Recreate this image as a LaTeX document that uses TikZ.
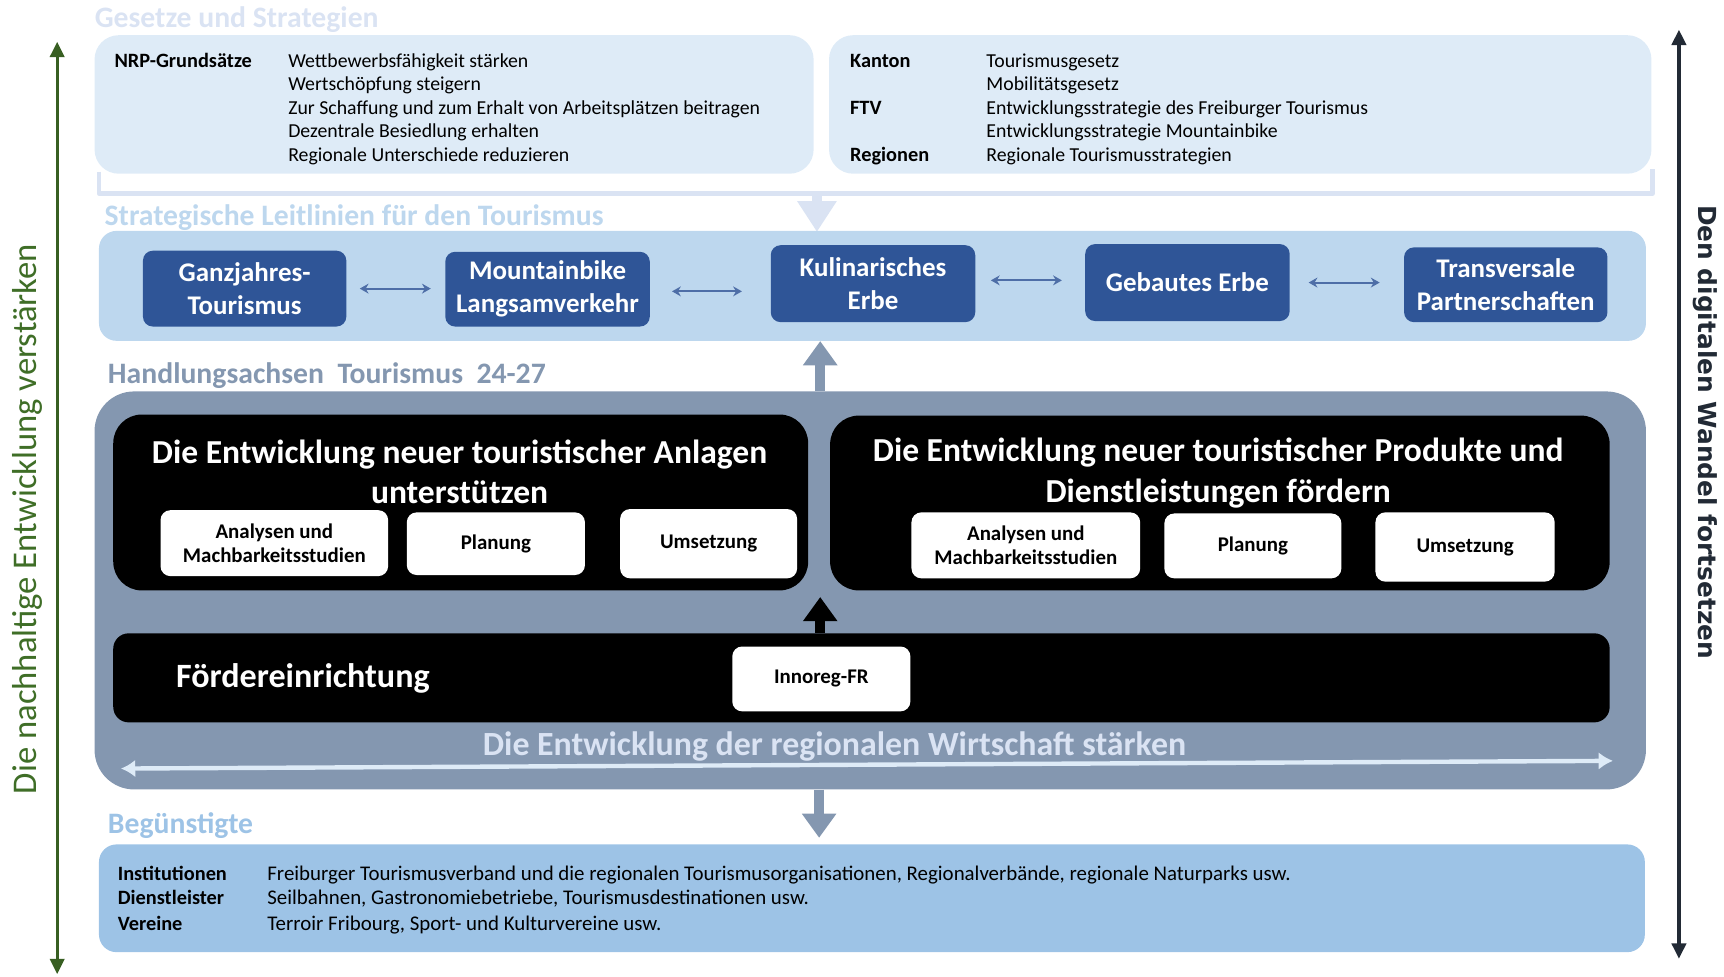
\documentclass[tikz,border=0pt]{standalone}
\usepackage{fontspec}
\setmainfont{Carlito}
\newfontfamily\vfont{DejaVu Sans}
\usetikzlibrary{arrows.meta}
\definecolor{pale}{HTML}{DEEBF7}
\definecolor{paletitle}{HTML}{DAE3F3}
\definecolor{band}{HTML}{BDD7EE}
\definecolor{navy}{HTML}{2F5597}
\definecolor{greyblue}{HTML}{8497B0}
\definecolor{benef}{HTML}{9DC3E6}
\definecolor{dgreen}{HTML}{385F22}
\definecolor{tgreen}{HTML}{3F6E27}
\definecolor{dnavy}{HTML}{222A35}
\begin{document}
\begin{tikzpicture}[x=1pt,y=-1pt,
  panel/.style={rectangle, inner sep=0pt, draw=none},
  topbox/.style={panel, fill=pale, rounded corners=22pt},
  bandbox/.style={panel, fill=band, rounded corners=16pt},
  navybox/.style={panel, fill=navy, rounded corners=9pt, text=white, align=center,
     font=\fontsize{24.5}{30}\selectfont\bfseries},
  greybox/.style={panel, fill=greyblue, rounded corners=36pt},
  blackbox/.style={panel, fill=black, rounded corners=26pt},
  whitebox/.style={panel, fill=white, rounded corners=9pt, align=center,
     font=\fontsize{19}{22}\selectfont\bfseries},
  benbox/.style={panel, fill=benef, rounded corners=16pt},
  txt/.style={inner sep=0pt, anchor=base west, font=\fontsize{18}{21}\selectfont},
  lbl/.style={txt, font=\fontsize{18.5}{21}\selectfont\bfseries},
  btxt/.style={txt, font=\fontsize{19}{21}\selectfont},
  sectitle/.style={inner sep=0pt, anchor=base west, font=\fontsize{27}{32}\selectfont\bfseries},
  bigtitle/.style={inner sep=0pt, text=white, align=center, font=\fontsize{30.5}{37}\selectfont\bfseries},
  biarrow/.style={navy!85, line width=1.8pt, {Stealth[width=9pt,length=8pt]}-{Stealth[width=9pt,length=8pt]}},
  fatarrow/.style={line width=9pt, -{Triangle[width=30pt,length=22pt]}}
]
\useasboundingbox (0,0) rectangle (1568,888);

% ---------- side arrows ----------
\coordinate (gtop) at (52,38);
\coordinate (gbot) at (52,886);
\draw[dgreen, line width=3pt, {Triangle[width=13pt,length=14pt]}-{Triangle[width=13pt,length=14pt]}] (gtop) -- (gbot);
\node[rotate=90, text=tgreen, inner sep=0pt, font=\fontsize{31.5}{34}\selectfont] (gtext) at (25,472) {Die nachhaltige Entwicklung verstärken};

\coordinate (rtop) at (1527,27);
\coordinate (rbot) at (1527,872);
\draw[dnavy, line width=3pt, {Triangle[width=13pt,length=14pt]}-{Triangle[width=13pt,length=14pt]}] (rtop) -- (rbot);
\node[rotate=-90, text=dnavy, inner sep=0pt, font=\vfont\fontsize{22.6}{26}\selectfont\bfseries] (rtext) at (1551,393) {Den digitalen Wandel fortsetzen};

% ---------- Gesetze und Strategien ----------
\node[sectitle, text=paletitle] (t1) at (86,25) {Gesetze und Strategien};
\node[topbox, minimum width=654pt, minimum height=126pt] (tl) at (413,95) {};
\node[topbox, minimum width=748pt, minimum height=126pt] (tr) at (1128,95) {};

\node[lbl] (nrp) at (104,61) {NRP-Grundsätze};
\foreach \t [count=\i] in {Wettbewerbsfähigkeit stärken, Wertschöpfung steigern,
  Zur Schaffung und zum Erhalt von Arbeitsplätzen beitragen,
  Dezentrale Besiedlung erhalten, Regionale Unterschiede reduzieren}
  \node[txt] (nl\i) at (262,{61+21.5*(\i-1)}) {\t};

\node[lbl] (kan) at (773,61) {Kanton};
\node[lbl] (ftv) at (773,104) {FTV};
\node[lbl] (reg) at (773,147) {Regionen};
\foreach \t [count=\i] in {Tourismusgesetz, Mobilitätsgesetz,
  Entwicklungsstrategie des Freiburger Tourismus,
  Entwicklungsstrategie Mountainbike, Regionale Tourismusstrategien}
  \node[txt] (rl\i) at (897,{61+21.5*(\i-1)}) {\t};

% bracket and arrow
\coordinate (bl) at (90,156);
\coordinate (br) at (1503,154);
\coordinate (bm) at (743,176);
\coordinate (btip) at (743,211);
\draw[paletitle, line width=4pt, line join=round] (bl) -- (90,176) -- (1503,176) -- (br);
\draw[paletitle, line width=9pt, -{Triangle[width=34pt,length=28pt]}] (bm) -- (btip);

% ---------- Strategische Leitlinien ----------
\node[sectitle, text=band] (t2) at (95,205) {Strategische Leitlinien für den Tourismus};
\node[bandbox, minimum width=1407pt, minimum height=100pt] (band) at (793.5,260) {};
\node[navybox, minimum width=185pt, minimum height=69pt] (g1) at (222.5,262.5) {Ganzjahres-\\Tourismus};
\node[navybox, minimum width=186pt, minimum height=68pt] (g2) at (498,263) {Mountainbike\\Langsamverkehr};
\node[navybox, minimum width=186pt, minimum height=70pt] (g3) at (794,258) {Kulinarisches\\Erbe};
\node[navybox, minimum width=186pt, minimum height=70pt] (g4) at (1080,257) {Gebautes Erbe};
\node[navybox, minimum width=185pt, minimum height=68pt] (g5) at (1369.5,259) {Transversale\\Partnerschaften};
\draw[biarrow, shorten <=12pt, shorten >=13pt] (g1.east) -- (g1.east -| g2.west);
\draw[biarrow, shorten <=20pt, shorten >=26pt] ([yshift=-2pt]g2.east) -- ([yshift=-2pt]g2.east -| g3.west);
\draw[biarrow, shorten <=14pt, shorten >=21pt] ([yshift=3pt]g3.east) -- ([yshift=3pt]g3.east -| g4.west);
\draw[biarrow, shorten <=17pt, shorten >=22pt] (g4.east) -- (g4.east -| g5.west);

% ---------- Handlungsachsen ----------
\node[sectitle, text=greyblue] (t3) at (98,349) {Handlungsachsen~~Tourismus~~24-27};
\node[greybox, minimum width=1411pt, minimum height=362pt] (grey) at (791.5,537) {};
\draw[greyblue, fatarrow] (grey.north -| 746,0) -- (band.south -| 746,0);

\node[blackbox, minimum width=632pt, minimum height=160pt] (bl1) at (419,457) {};
\node[blackbox, minimum width=709pt, minimum height=159pt] (bl2) at (1109.5,457.5) {};
\node[bigtitle] (h1) at (418,429) {Die Entwicklung neuer touristischer Anlagen\\unterstützen};
\node[bigtitle] (h2) at (1108,430) {Die Entwicklung neuer touristischer Produkte und\\Dienstleistungen fördern};

\node[whitebox, minimum width=207pt, minimum height=60pt] (a1) at (249.5,494) {Analysen und\\Machbarkeitsstudien};
\node[whitebox, minimum width=162pt, minimum height=57pt] (p1) at (451,494.5) {Planung};
\node[whitebox, minimum width=161pt, minimum height=63pt] (u1) at (644.5,494.5) {Umsetzung};
\node[whitebox, minimum width=208pt, minimum height=60pt] (a2) at (933,496) {Analysen und\\Machbarkeitsstudien};
\node[whitebox, minimum width=161pt, minimum height=59pt] (p2) at (1139.5,496.5) {Planung};
\node[whitebox, minimum width=163pt, minimum height=63pt] (u2) at (1332.5,497.5) {Umsetzung};

\node[panel, fill=black, rounded corners=14pt, minimum width=1361pt, minimum height=81pt] (fo) at (783.5,616.5) {};
\node[inner sep=0pt, anchor=west, text=white, font=\fontsize{31}{36}\selectfont\bfseries] (fot) at (160,617) {Fördereinrichtung};
\node[whitebox, minimum width=162pt, minimum height=59pt] (inno) at (747,617.5) {Innoreg-FR};
\coordinate (ktip) at (746,543);
\draw[black, fatarrow] (fo.north -| ktip) -- (ktip);

\node[inner sep=0pt, text=paletitle, font=\fontsize{30.8}{34}\selectfont\bfseries] (wirt) at (759,679) {Die Entwicklung der regionalen Wirtschaft stärken};
\coordinate (wl) at (110,699);
\coordinate (wr) at (1467,692);
\draw[pale, line width=4pt, {Latex[width=16pt,length=13pt]}-{Latex[width=16pt,length=13pt]}] (wl) -- (wr);

% ---------- Begünstigte ----------
\node[sectitle, text=benef] (t4) at (98,758) {Begünstigte};
\node[benbox, minimum width=1406pt, minimum height=98pt] (ben) at (793,817) {};
\coordinate (dtip) at (745,762);
\draw[greyblue, fatarrow] (grey.south -| dtip) -- (dtip);

\node[lbl] (b1) at (107,801) {Institutionen};
\node[lbl] (b2) at (107,823) {Dienstleister};
\node[lbl] (b3) at (107,846) {Vereine};
\node[btxt] (c1) at (243,801) {Freiburger Tourismusverband und die regionalen Tourismusorganisationen, Regionalverbände, regionale Naturparks usw.};
\node[btxt] (c2) at (243,823) {Seilbahnen, Gastronomiebetriebe, Tourismusdestinationen usw.};
\node[btxt] (c3) at (243,846) {Terroir Fribourg, Sport- und Kulturvereine usw.};
\end{tikzpicture}
\end{document}
